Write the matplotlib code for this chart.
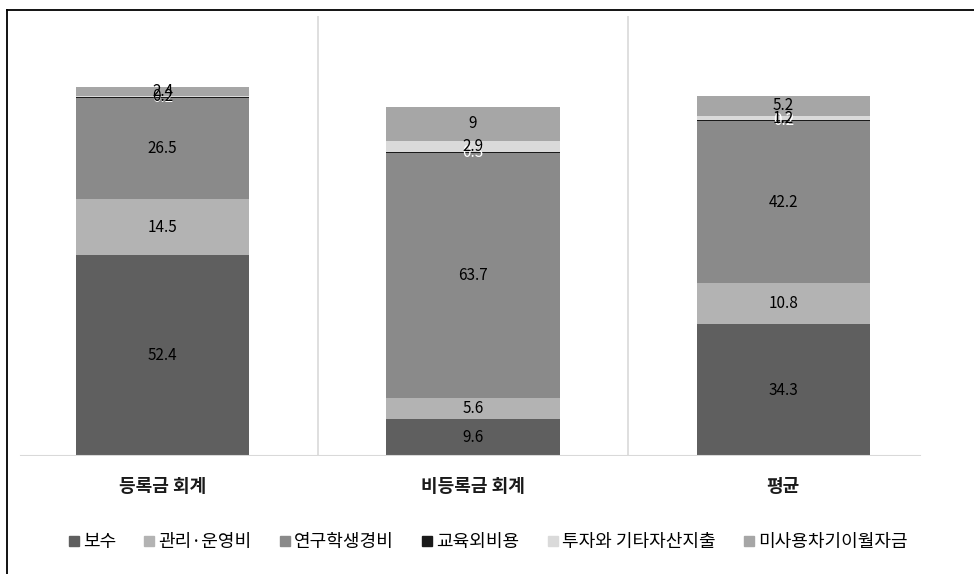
import matplotlib
matplotlib.use("Agg")
import matplotlib.pyplot as plt
from matplotlib.lines import Line2D
import numpy as np

plt.rcParams['font.family'] = ['Noto Sans CJK KR', 'DejaVu Sans']

categories = ['등록금 회계', '비등록금 회계', '평균']
series_names = ['보수', '관리·운영비', '연구학생경비', '교육외비용', '투자와 기타자산지출', '미사용차기이월자금']
bosu = [52.4, 9.6, 34.3]
gwanri = [14.5, 5.6, 10.8]
yeongu = [26.5, 63.7, 42.2]
gyoyukoe = [0.2, 0.3, 0.2]
tuja = [0.2, 2.9, 1.2]
misayong = [2.4, 9.0, 5.2]
values = [bosu, gwanri, yeongu, gyoyukoe, tuja, misayong]
colors = ['#5f5f5f', '#b3b3b3', '#8a8a8a', '#1a1a1a', '#dadada', '#a6a6a6']
label_colors = ['black', 'black', 'black', 'white', 'black', 'black']

W, H = 974, 574
fig = plt.figure(figsize=(W / 100, H / 100), dpi=100)
ax = fig.add_axes([7.5 / W, 1 - 456 / H, 931 / W, 440 / H])

x = np.arange(len(categories))
bottom = np.zeros(len(categories))
for name, vals, col, lc in zip(series_names, values, colors, label_colors):
    vals = np.array(vals)
    ax.bar(x, vals, width=0.558, bottom=bottom, color=col, label=name, zorder=3)
    for xi, b, v in zip(x, bottom, vals):
        txt = f'{v:g}'
        ax.text(xi, b + v / 2, txt, ha='center', va='center', fontsize=11,
                color=lc, zorder=5)
    bottom += vals

ax.set_xlim(-0.5, 2.5)
ax.set_ylim(0, 114.7)
for s in ax.spines.values():
    s.set_visible(False)
ax.set_yticks([])
ax.set_xticks([])
for sep in [0.5, 1.5]:
    ax.axvline(sep, color='#d9d9d9', lw=1.2, zorder=1)
ax.axhline(0, xmin=0.0145, xmax=0.98, color='#d9d9d9', lw=1.5, zorder=4)

for xi, c in zip(x, categories):
    ax.text(xi, -0.07, c, transform=ax.get_xaxis_transform(), ha='center', va='center',
            fontsize=13, fontweight='bold', color='#1a1a1a')

handles = [Line2D([], [], marker='s', linestyle='none', color=c, markersize=7) for c in colors]
fig.legend(handles, series_names, loc='center', bbox_to_anchor=(487 / W, 1 - 542 / H),
           ncol=6, frameon=False, fontsize=13, handletextpad=0.1, columnspacing=1.45,
           handlelength=0.8)

# figure frame (left and top)
fig.add_artist(Line2D([7 / W, 7 / W], [0, 1 - 10 / H], color='black', lw=1.3, transform=fig.transFigure))
fig.add_artist(Line2D([7 / W, 1], [1 - 10 / H, 1 - 10 / H], color='black', lw=1.3, transform=fig.transFigure))

fig.savefig('out.png', dpi=100)
